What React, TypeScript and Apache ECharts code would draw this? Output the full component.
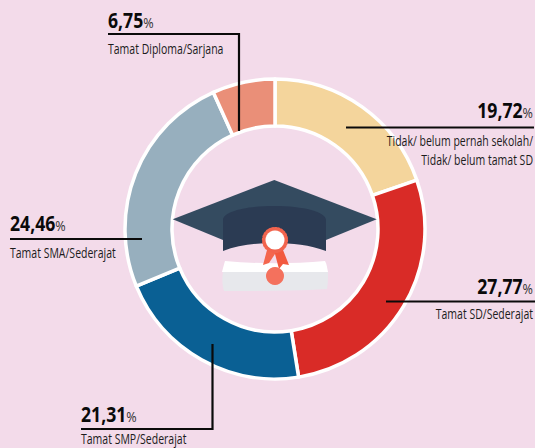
import React, { useEffect, useRef } from "react";
import * as echarts from "echarts";

const categories = [
  "Tidak/ belum pernah sekolah/\nTidak/ belum tamat SD",
  "Tamat SD/Sederajat",
  "Tamat SMP/Sederajat",
  "Tamat SMA/Sederajat",
  "Tamat Diploma/Sarjana",
];
const values = [19.72, 27.77, 21.31, 24.46, 6.75];
const valueLabels = ["19,72", "27,77", "21,31", "24,46", "6,75"];
const colors = ["#f4d59c", "#d92b27", "#0a6094", "#97afbe", "#ea8f78"];

const FONT = '"Open Sans", "Liberation Sans", sans-serif';
const BLACK = "#0a0a0a";

const callouts = [
  { x: 533, y: 110, align: "right", line: [[346, 127.5], [534, 127.5]], ly: 131, lh: 19 },
  { x: 533, y: 286, align: "right", line: [[386, 301.5], [535, 301.5]], ly: 304, lh: 18 },
  { x: 81, y: 414, align: "left", line: [[81, 429], [212.5, 429], [212.5, 344]], ly: 430.5, lh: 16 },
  { x: 10, y: 223, align: "left", line: [[10, 239], [142, 239]], ly: 243, lh: 18 },
  { x: 108, y: 20, align: "left", line: [[108, 34], [239, 34], [239, 131]], ly: 39, lh: 18 },
];

function calloutGraphics() {
  const out: any[] = [];
  callouts.forEach((c, i) => {
    out.push({
      type: "polyline",
      shape: { points: c.line },
      style: { stroke: BLACK, lineWidth: 2.2, fill: "none" },
      z: 20,
    });
    out.push({
      type: "text",
      x: c.x,
      y: c.y,
      scaleX: 0.84,
      z: 21,
      style: {
        text: `{n|${valueLabels[i]}}{p|%}`,
        align: c.align,
        verticalAlign: "middle",
        rich: {
          n: { fontFamily: FONT, fontSize: 21, fontWeight: "bold", fill: BLACK },
          p: { fontFamily: FONT, fontSize: 15, fill: "#333333", padding: [5, 0, 0, 0] },
        },
      },
    });
    out.push({
      type: "text",
      x: c.x,
      y: c.ly,
      scaleX: 0.725,
      z: 21,
      style: {
        text: categories[i],
        align: c.align,
        verticalAlign: "top",
        fontFamily: FONT,
        fontSize: 14.5,
        lineHeight: c.lh,
        fill: "#1c1c1c",
      },
    });
  });
  return out;
}

function capGraphics() {
  return [
    {
      type: "polygon",
      z: 10,
      shape: { points: [[274.3, 180], [376.7, 219.3], [326, 240], [223, 240], [172.7, 219.3]] },
      style: { fill: "#344b60" },
    },
    { type: "capBody", z: 11, style: { fill: "#2b3b53" } },
    { type: "scrollGrey", z: 11, style: { fill: "#e7e8ec" } },
    { type: "scrollWhite", z: 11, style: { fill: "#ffffff" } },
    {
      type: "polygon",
      z: 12,
      shape: { points: [[267, 250], [263, 265], [269, 263], [275, 254], [275, 246]] },
      style: { fill: "#f4664e" },
    },
    {
      type: "polygon",
      z: 12,
      shape: { points: [[275, 246], [275, 254], [279, 269], [283, 264], [289, 265], [283, 250]] },
      style: { fill: "#f2593f" },
    },
    { type: "circle", z: 13, shape: { cx: 275, cy: 276, r: 9 }, style: { fill: "#f4715d" } },
    { type: "circle", z: 14, shape: { cx: 275, cy: 240, r: 12 }, style: { fill: "#f2644e", stroke: "#f2644e", lineWidth: 2.2, lineDash: [1.5, 1.6], lineCap: "round" } },
    { type: "circle", z: 15, shape: { cx: 275, cy: 240, r: 9.5 }, style: { fill: "#ffffff" } },
  ];
}

export default function App() {
  const ref = useRef<HTMLDivElement>(null);
  useEffect(() => {
    document.body.style.margin = "0";
    const g: any = echarts.graphic;
    g.registerShape("capBody", g.extendPath("M223 220 C223 212 245 206 274 206 C304 206 326 212 326 220 L326 251 C310 245 292 243 274 243 C256 243 238 245 223 251 Z", {}));
    g.registerShape("scrollGrey", g.extendPath("M223 272 L328 272 C328 278 328 284 327 289 C292 291 258 291 224 291 C222 285 222 278 223 272 Z", {}));
    g.registerShape("scrollWhite", g.extendPath("M225 261 C258 264 292 264 325 261 C327 264 327 268 328 272 L222 272 C223 268 224 264 225 261 Z", {}));
    const chart = echarts.init(ref.current!, undefined, { renderer: "svg" });
    chart.setOption({
      animation: false,
      backgroundColor: "#f3dbea",
      series: [
        {
          type: "pie",
          center: [275, 229],
          radius: [103, 150],
          startAngle: 90,
          clockwise: true,
          silent: true,
          label: { show: false },
          labelLine: { show: false },
          itemStyle: { borderColor: "#ffffff", borderWidth: 3.5 },
          data: values.map((value, i) => ({
            value,
            name: categories[i],
            itemStyle: { color: colors[i] },
          })),
        },
      ],
      graphic: { elements: [...capGraphics(), ...calloutGraphics()] },
    });
    return () => chart.dispose();
  }, []);
  return <div ref={ref} style={{ width: 535, height: 448 }} />;
}
